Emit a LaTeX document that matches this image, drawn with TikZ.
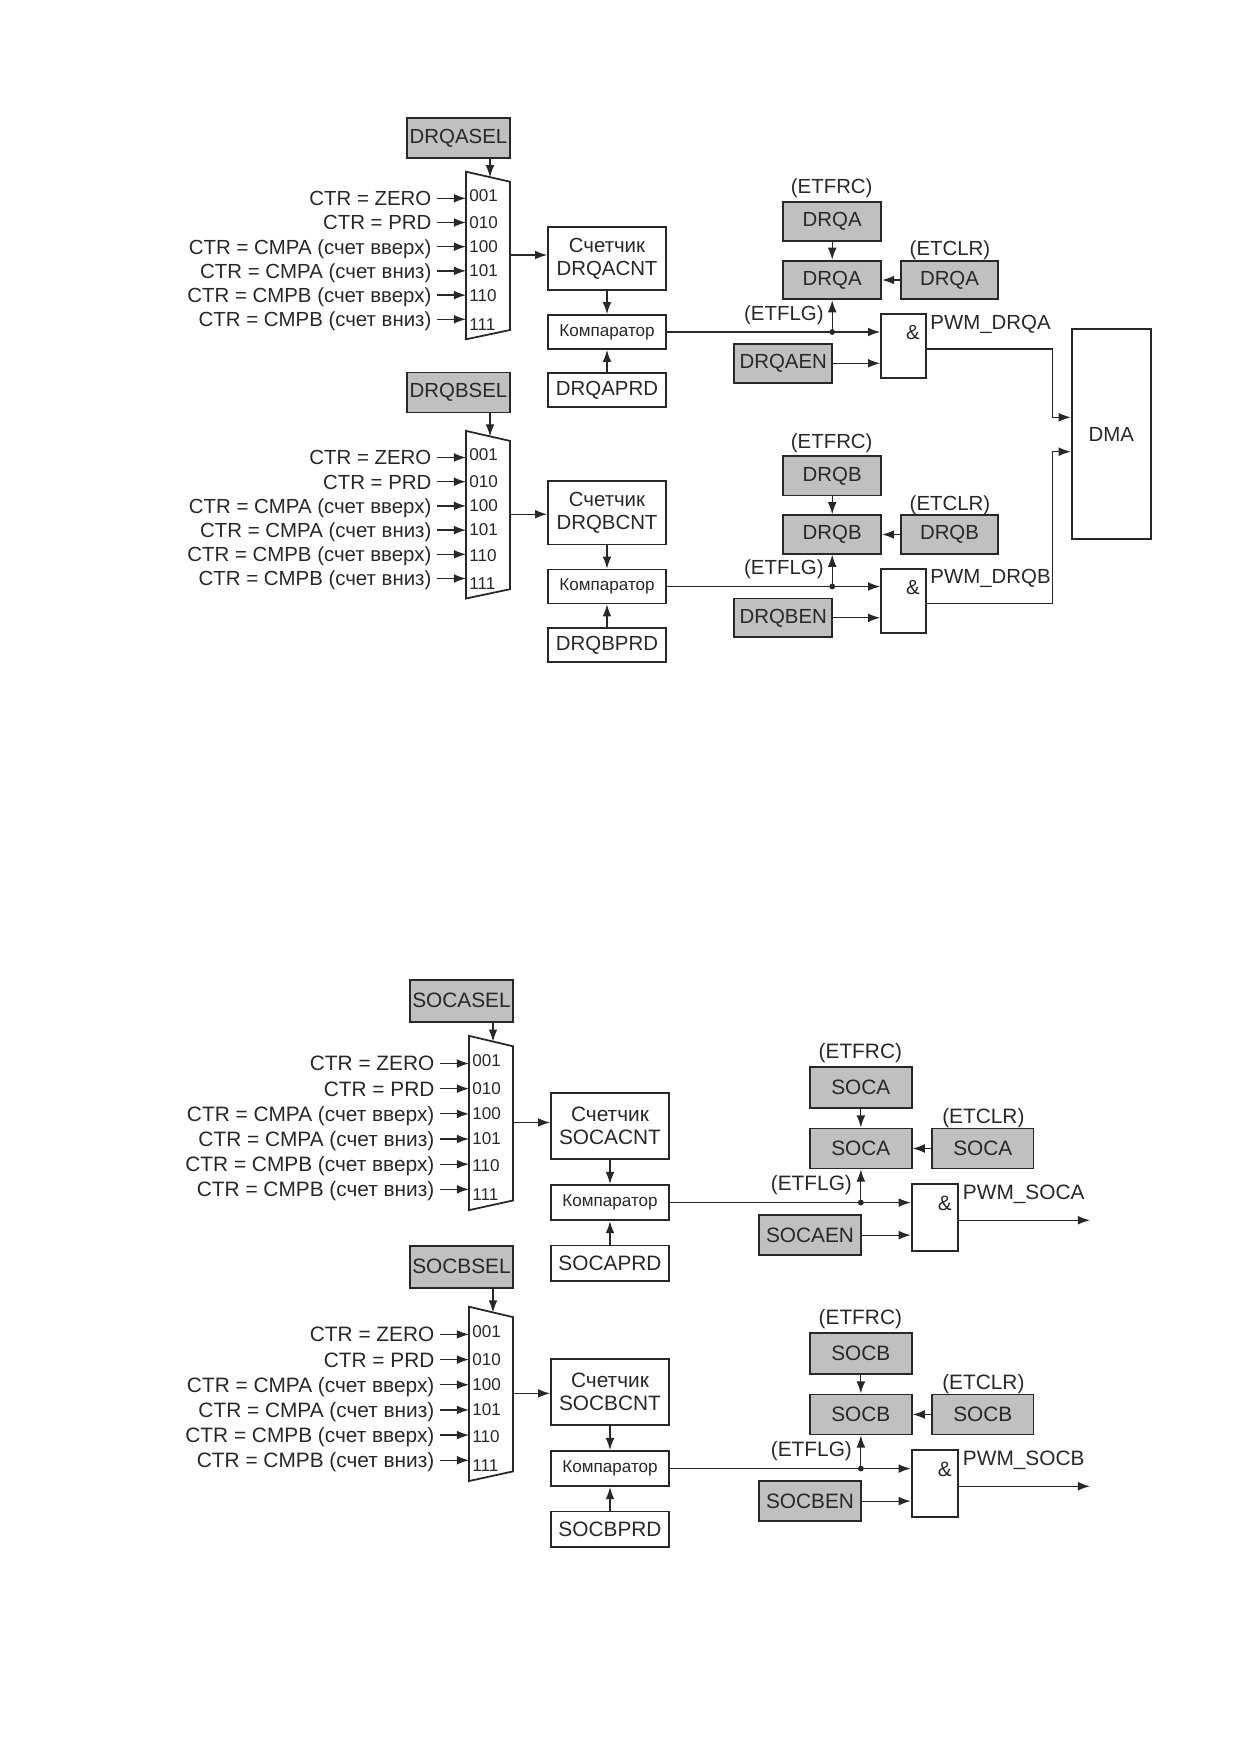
\documentclass[tikz,border=0pt]{standalone}
\usepackage{fontspec}
\setmainfont{Liberation Sans}
\usetikzlibrary{arrows.meta}
\definecolor{ink}{RGB}{40,40,40}
\definecolor{boxgray}{RGB}{192,192,192}
\newcommand\ppx{0.48pt}
\newcommand\Ly[1]{\gy+(#1)*\gs}
\newcommand\My[1]{\gy+((#1)+\gm)*\gs}
\newcommand\Lx[1]{\gxl+(#1)}
\newcommand\Rx[1]{\gxr+((#1)-783.3)*\gs}
\tikzset{
  ln/.style={draw=ink, line width=0.6pt},
  arr/.style={ln, -{Latex[length=5.8pt,width=4.2pt]}},
  sz/.style 2 args={minimum width={(#1)*\ppx}, minimum height={(#2)*\gs*\ppx}},
  txt/.style={text=ink, font=\fontsize{\fsz}{11}\selectfont},
  wbox/.style={txt, draw=ink, line width=0.85pt, fill=white, inner sep=0pt},
  gbox/.style={wbox, fill=boxgray},
  lbl/.style={txt, inner sep=0pt},
  inlbl/.style={txt, anchor=east, inner xsep=2.5pt, inner ysep=0pt, text height=0.716em, text depth=0pt},
  num/.style={text=ink, font=\fontsize{8.2}{9}\selectfont, anchor=west, inner sep=0pt},
  small/.style={font=\fontsize{8.2}{9}\selectfont},
}
\newcommand\grp[2]{%
  % selector register and multiplexer
  \node[gbox, sz={103}{40}] (#1sel) at ({\Lx{458.5}},{\Ly{20}}) {#2SEL};
  \coordinate (#1mt) at ({\Lx{490}},{\My{59.2}});
  \draw[ln, line width=0.85pt] ({\Lx{466}},{\My{53.7}}) -- ({\Lx{510}},{\My{63.7}}) -- ({\Lx{510}},{\My{212}}) -- ({\Lx{466}},{\My{221.3}}) -- cycle;
  \draw[arr] (#1sel.south -| #1mt) -- (#1mt);
  \foreach \tx/\nm/\dd [count=\kk from 0] in {{CTR = ZERO}/001/-3,{CTR = PRD}/010/0,{CTR = CMPA (счет вверх)}/100/0,{CTR = CMPA (счет вниз)}/101/0,{CTR = CMPB (счет вверх)}/110/1,{CTR = CMPB (счет вниз)}/111/5}{
    \coordinate (#1i\nm) at ({\Lx{466}},{\My{80.3+\kk*24.2}});
    \node[inlbl] (#1l\nm) at ({\Lx{437}},{\My{80.3+\kk*24.2}}) {\tx};
    \node[num] (#1n\nm) at ({\Lx{469}},{\My{80.3+\kk*24.2+\dd}}) {\nm};
    \draw[arr] (#1l\nm.east) -- (#1i\nm);
  }
  % counter, comparator, period
  \coordinate (#1mo) at ({\Lx{510}},{\My{137}});
  \node[wbox, sz={118}{63.3}, align=center] (#1cnt) at ({\Lx{607}},{\Ly{140.35}}) {Счетчик\\#2CNT};
  \draw[arr] (#1mo) -- (#1mo -| #1cnt.west);
  \node[wbox, sz={118}{34}, small] (#1cmp) at ({\Lx{607}},{\Ly{214}}) {Компаратор};
  \node[wbox, sz={118}{34}] (#1prd) at ({\Lx{607}},{\Ly{272.3}}) {#2PRD};
  \draw[arr] (#1cnt) -- (#1cmp);
  \draw[arr] (#1prd) -- (#1cmp);
  % flag registers
  \node[lbl] (#1frcl) at ({\Rx{831.7}},{\Ly{70.3}}) {(ETFRC)};
  \node[gbox, sz={98*\gs}{39.3}] (#1frc) at ({\Rx{832.2}},{\Ly{103.4}}) {#2};
  \node[gbox, sz={98*\gs}{38.6}] (#1flg) at ({\Rx{832.2}},{\Ly{162}}) {#2};
  \node[gbox, sz={97.6*\gs}{38.6}] (#1clr) at ({\Rx{949.5}},{\Ly{162}}) {#2};
  \node[lbl] (#1clrl) at ({\Rx{950}},{\Ly{132.5}}) {(ETCLR)};
  \draw[arr] (#1frc) -- (#1flg);
  \draw[arr] (#1clr) -- (#1flg);
  % AND gate
  \node[wbox, sz={44.7*\gs}{64}] (#1and) at ({\Rx{903.35}},{\Ly{228.3}}) {};
  \node[lbl] (#1amp) at ({\Rx{913}},{\Ly{215}}) {\&};
  \node[lbl, anchor=west] (#1pwm) at ({\Rx{930}},{\Ly{206}}) {PWM\_#2};
  \node[gbox, sz={98*\gs}{38.7}] (#1en) at ({\Rx{783.3}},{\Ly{245.3}}) {#2EN};
  \coordinate (#1dot) at (#1cmp.east -| #1flg);
  \draw[arr] (#1cmp.east) -- (#1cmp.east -| #1and.west);
  \draw[arr] (#1dot) -- (#1flg);
  \fill[ink] (#1dot) circle[radius=1.4pt];
  \node[lbl, anchor=east] (#1flgl) at ({\Rx{824}},{\Ly{197}}) {(ETFLG)};
  \draw[arr] (#1en) -- (#1en -| #1and.west);
  \path (#1and.east) ++(0,{2.7*\gs}) coordinate (#1ao);
}
\begin{document}
\begin{tikzpicture}[x=0.48pt,y=-0.48pt]
\fill[white] (0,0) rectangle (1240,1754);
\useasboundingbox (0,0) rectangle (1240,1754);
% DMA request section
\def\fsz{9.8}\def\gs{1}\def\gxl{0}\def\gxr{783.3}
\def\gy{118}\def\gm{0}\grp{da}{DRQA}
\def\gy{372.5}\def\gm{4.7}\grp{db}{DRQB}
\node[wbox, minimum width=79*\ppx, minimum height=210*\ppx] (dma) at (1111.2,434.3) {DMA};
\coordinate (jA) at (1052.3,417.3);
\coordinate (jB) at (1052.3,451.7);
\draw[arr] (daao) -| (jA) -- (jA -| dma.west);
\draw[arr] (dbao) -| (jB) -- (jB -| dma.west);
% start-of-conversion section
\def\fsz{10}\def\gs{1.04}\def\gxl{3}\def\gxr{810}
\def\gy{980}\def\gm{0}\grp{sa}{SOCA}
\def\gy{1246}\def\gm{4.7}\grp{sb}{SOCB}
\coordinate (send) at (1090,0);
\draw[arr] (saao) -- (saao -| send);
\draw[arr] (sbao) -- (sbao -| send);
\end{tikzpicture}
\end{document}
